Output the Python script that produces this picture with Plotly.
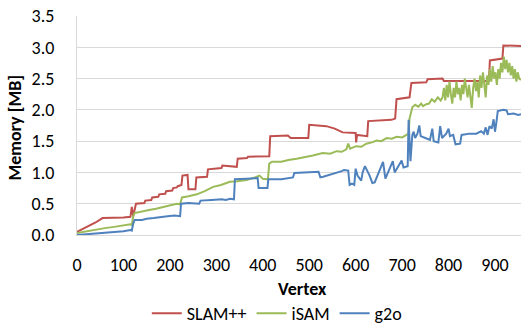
import plotly.graph_objects as go

# ---- data ----
slam_v = [0, 20, 40, 55, 80, 100, 115, 118, 121, 127, 145, 147, 160, 162, 175, 177, 190, 192, 205, 207,
          215, 217, 225, 227, 238, 240, 255, 257, 280, 282, 311, 313, 344, 346, 366, 368, 414, 416, 454,
          460, 498, 500, 537, 555, 572, 600, 601, 603, 625, 627, 677, 685, 688, 716, 720, 752, 755, 787,
          790, 887, 889, 916, 918, 956]
slam_y = [0.05, 0.12, 0.20, 0.27, 0.27, 0.28, 0.29, 0.45, 0.30, 0.50, 0.51, 0.55, 0.56, 0.60, 0.61, 0.65,
          0.66, 0.70, 0.71, 0.75, 0.76, 0.78, 0.80, 0.95, 0.96, 0.73, 0.73, 0.92, 0.93, 1.05, 1.07, 1.11,
          1.09, 1.22, 1.23, 1.25, 1.26, 1.58, 1.59, 1.55, 1.55, 1.76, 1.74, 1.70, 1.64, 1.63, 1.48, 1.60,
          1.58, 1.82, 1.84, 1.86, 2.17, 2.20, 2.43, 2.44, 2.49, 2.50, 2.46, 2.46, 2.79, 2.82, 3.03, 3.02]

isam_v = [0, 20, 40, 60, 80, 100, 115, 118, 121, 124, 140, 155, 170, 185, 200, 215, 222, 226, 240, 258,
          275, 293, 310, 329, 345, 365, 383, 393, 400, 411, 414, 420, 440, 455, 473, 490, 508, 529, 545,
          559, 570, 580, 584, 588, 601, 612, 623, 635, 645, 655, 667, 678, 688, 700, 710, 714, 716, 722,
          728, 735, 741, 745, 752, 758, 764, 770, 777, 783,
          787, 790, 793, 796, 799, 802, 805, 808, 811, 814, 817, 820, 823, 826, 829, 832, 835, 838, 841,
          844, 847, 850, 853, 856, 859, 862, 865, 868, 871, 874, 877, 880, 883, 886, 889, 892, 895, 898,
          901, 904, 907, 910, 913, 916, 919, 922, 925, 928, 931, 934, 937, 940, 943, 946, 949, 952, 956]
isam_y = [0.03, 0.06, 0.09, 0.11, 0.13, 0.15, 0.17, 0.16, 0.30, 0.35, 0.37, 0.40, 0.42, 0.45, 0.47, 0.50,
          0.49, 0.60, 0.62, 0.65, 0.70, 0.77, 0.80, 0.85, 0.86, 0.88, 0.92, 0.95, 0.90, 0.89, 1.14, 1.17,
          1.17, 1.20, 1.22, 1.24, 1.27, 1.31, 1.30, 1.34, 1.33, 1.37, 1.46, 1.38, 1.42, 1.41, 1.46, 1.48,
          1.51, 1.50, 1.55, 1.54, 1.57, 1.56, 1.60, 1.62, 1.86, 2.04, 2.08, 2.05, 2.10, 2.06, 2.09, 2.10,
          2.17, 2.13, 2.20, 2.15,
          2.20, 2.35, 2.15, 2.40, 2.20, 2.45, 2.25, 2.10, 2.35, 2.20, 2.45, 2.25, 2.35, 2.15, 2.40, 2.25,
          2.50, 2.30, 2.20, 2.40, 2.25, 2.03, 2.35, 2.50, 2.30, 2.45, 2.20, 2.55, 2.35, 2.60, 2.40, 2.20,
          2.55, 2.40, 2.65, 2.45, 2.70, 2.50, 2.60, 2.40, 2.65, 2.50, 2.75, 2.60, 2.85, 2.65, 2.80, 2.60,
          2.75, 2.55, 2.70, 2.50, 2.65, 2.45, 2.60, 2.50, 2.48]

g2o_v = [0, 20, 40, 60, 80, 100, 115, 118, 121, 124, 140, 150, 165, 180, 195, 210, 222, 224, 240, 263,
         266, 290, 312, 320, 330, 338, 340, 365, 389, 391, 410, 412, 440, 465, 468, 520, 524, 530, 545,
         559, 570, 575, 584, 587, 592, 597, 600, 604, 612, 615, 620, 630, 636, 641, 659, 664, 680, 684,
         699, 703, 712, 714, 716, 718, 722, 725, 728, 733, 737, 740, 750, 760, 765, 768, 778, 782, 786,
         795, 800, 803, 810, 815, 825, 828, 845, 860, 870, 876, 880, 884, 888, 893, 897, 900, 903, 906,
         918, 925, 928, 940, 950, 956]
g2o_y = [0.00, 0.01, 0.03, 0.04, 0.05, 0.06, 0.08, 0.07, 0.18, 0.24, 0.24, 0.26, 0.27, 0.29, 0.30, 0.31,
         0.30, 0.50, 0.51, 0.50, 0.55, 0.56, 0.57, 0.56, 0.58, 0.57, 0.89, 0.90, 0.91, 0.75, 0.75, 0.89,
         0.89, 0.92, 0.99, 1.01, 0.92, 0.93, 0.96, 0.99, 1.02, 1.04, 1.03, 0.80, 0.82, 0.80, 1.06, 0.95,
         0.87, 1.00, 1.10, 0.95, 0.83, 0.84, 1.17, 0.90, 1.18, 1.00, 1.19, 1.08, 1.10, 1.84, 1.50, 1.18,
         1.60, 1.65, 1.55, 1.62, 1.75, 1.58, 1.55, 1.52, 1.70, 1.50, 1.48, 1.74, 1.55, 1.62, 1.70, 1.58,
         1.60, 1.45, 1.46, 1.60, 1.62, 1.62, 1.66, 1.62, 1.72, 1.60, 1.74, 1.70, 1.85, 1.65, 1.80, 1.98,
         2.00, 1.99, 1.93, 1.94, 1.92, 1.93]

x_ticks = [0, 100, 200, 300, 400, 500, 600, 700, 800, 900]
y_ticks = [0.0, 0.5, 1.0, 1.5, 2.0, 2.5, 3.0, 3.5]

FONT = "Carlito, Lato, 'Open Sans', sans-serif"

fig = go.Figure()
fig.add_trace(go.Scatter(x=slam_v, y=slam_y, mode="lines", name="SLAM++",
                         line=dict(color="#C0504D", width=2)))
fig.add_trace(go.Scatter(x=isam_v, y=isam_y, mode="lines", name="iSAM",
                         line=dict(color="#9BBB59", width=2)))
fig.add_trace(go.Scatter(x=g2o_v, y=g2o_y, mode="lines", name="g2o",
                         line=dict(color="#4F81BD", width=2)))

fig.update_layout(
    width=521, height=332,
    margin=dict(l=77, r=0, t=16, b=90),
    paper_bgcolor="white", plot_bgcolor="white",
    font=dict(family=FONT, size=18, color="#000000"),
    showlegend=True,
    legend=dict(orientation="h", x=0.45, xanchor="center", y=-0.36, yanchor="middle",
                font=dict(size=18), itemwidth=30, traceorder="normal",
                bgcolor="rgba(0,0,0,0)"),
    annotations=[
        dict(text="<b>Vertex</b>", x=0.507, y=-0.248, xref="paper", yref="paper",
             showarrow=False, font=dict(size=18), xanchor="center", yanchor="middle"),
        dict(text="<b>Memory [MB]</b>", x=-0.14, y=0.49, xref="paper", yref="paper",
             showarrow=False, font=dict(size=18), textangle=-90,
             xanchor="center", yanchor="middle"),
    ],
)
fig.update_xaxes(range=[0, 956], tickvals=x_ticks, ticktext=[str(v) for v in x_ticks],
                 showgrid=False, zeroline=False, showline=True, linecolor="#D9D9D9", linewidth=1,
                 ticks="outside", ticklen=13, tickcolor="rgba(0,0,0,0)")
fig.update_yaxes(range=[0, 3.5], tickvals=y_ticks, ticktext=[f"{v:.1f}" for v in y_ticks],
                 showgrid=True, gridcolor="#D9D9D9", gridwidth=1, zeroline=False,
                 showline=True, linecolor="#D9D9D9", linewidth=1,
                 ticks="outside", ticklen=18, tickcolor="rgba(0,0,0,0)")

fig.write_html("out.html")
